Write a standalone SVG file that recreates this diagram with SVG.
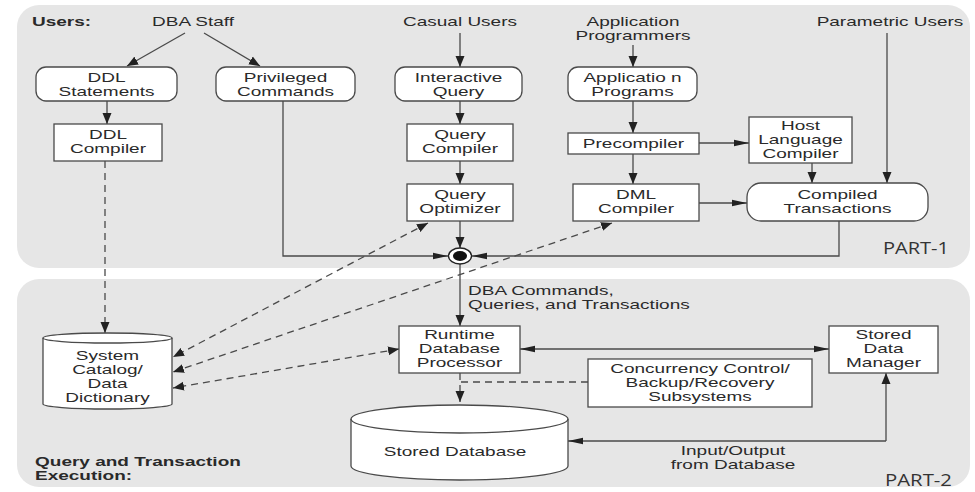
<svg xmlns="http://www.w3.org/2000/svg" width="975" height="492" viewBox="0 0 975 492">
<style>
.panel{fill:#e6e6e6;stroke:none}
.box{fill:#fff;stroke:#4a4a4a;stroke-width:1.3}
.ln{fill:none;stroke:#4a4a4a;stroke-width:1.3}
.dash{stroke-dasharray:7 5}
.t{font-family:"Liberation Sans",Arial,sans-serif;font-size:12.5px;fill:#2a2a2a;text-anchor:middle}
.s{text-anchor:start}
.b{font-weight:bold;text-anchor:start}
.part{font-family:"Open Sans","Liberation Sans",sans-serif;font-size:17px;fill:#333}
.arr{fill:#222}
</style>
<defs>
<marker id="av" viewBox="0 -5 12 10" markerWidth="12" markerHeight="10" refX="11" refY="0" orient="auto-start-reverse" markerUnits="userSpaceOnUse"><path class="arr" d="M0,-4.5 L11,0 L0,4.5 z"/></marker>
<marker id="ah" viewBox="0 -4 16 8" markerWidth="16" markerHeight="8" refX="15" refY="0" orient="auto-start-reverse" markerUnits="userSpaceOnUse"><path class="arr" d="M0,-3.2 L15,0 L0,3.2 z"/></marker>
</defs>

<g id="panels">
<rect class="panel" x="17" y="5" width="953" height="263" rx="22"/>
<rect class="panel" x="17" y="279" width="953" height="208" rx="22"/>
<text class="part" x="883" y="254" textLength="66" lengthAdjust="spacingAndGlyphs">PART-1</text>
<text class="part" x="885" y="486" textLength="67" lengthAdjust="spacingAndGlyphs">PART-2</text>
</g>

<g id="labels">
<text class="t b" transform="translate(32,0) scale(1.52,1)" y="26">Users:</text>
<text class="t" transform="translate(193,0) scale(1.52,1)" y="26">DBA Staff</text>
<text class="t" transform="translate(460,0) scale(1.52,1)" y="26">Casual Users</text>
<text class="t" transform="translate(633,0) scale(1.52,1)"><tspan x="0" y="26">Application</tspan><tspan x="0" y="40">Programmers</tspan></text>
<text class="t" transform="translate(890,0) scale(1.52,1)" y="26">Parametric Users</text>
<text class="t s" transform="translate(468,0) scale(1.52,1)"><tspan x="0" y="295">DBA Commands,</tspan><tspan x="0" y="309">Queries, and Transactions</tspan></text>
<text class="t" transform="translate(733,0) scale(1.52,1)"><tspan x="0" y="455">Input/Output</tspan><tspan x="0" y="469">from Database</tspan></text>
<text class="t b" transform="translate(35,0) scale(1.52,1)"><tspan x="0" y="466">Query and Transaction</tspan><tspan x="0" y="480">Execution:</tspan></text>
</g>

<g id="connectors">
<path class="ln" d="M185,33 L127,66" marker-end="url(#av)"/>
<path class="ln" d="M204,33 L260,66" marker-end="url(#av)"/>
<path class="ln" d="M107,101 V124" marker-end="url(#av)"/>
<path class="ln dash" d="M105,161 V333" marker-end="url(#av)"/>
<path class="ln" d="M460,33 V67" marker-end="url(#av)"/>
<path class="ln" d="M460,101 V124" marker-end="url(#av)"/>
<path class="ln" d="M460,161 V184" marker-end="url(#av)"/>
<path class="ln" d="M460,221 V248" marker-end="url(#av)"/>
<path class="ln" d="M283,101 V256 H448" marker-end="url(#ah)"/>
<path class="ln" d="M839,221 V256 H472" marker-end="url(#ah)"/>
<path class="ln" d="M460,264 V326" marker-end="url(#av)"/>
<path class="ln" d="M633,45 V67" marker-end="url(#av)"/>
<path class="ln" d="M633,101 V133" marker-end="url(#av)"/>
<path class="ln" d="M699,143 H749" marker-end="url(#ah)"/>
<path class="ln" d="M633,154 V184" marker-end="url(#av)"/>
<path class="ln" d="M699,203 H747" marker-end="url(#ah)"/>
<path class="ln" d="M812,163 V183" marker-end="url(#av)"/>
<path class="ln" d="M887,33 V183" marker-end="url(#av)"/>
<path class="ln dash" d="M428,223 L173,357" marker-start="url(#av)" marker-end="url(#av)"/>
<path class="ln dash" d="M612,223 L173,372" marker-start="url(#av)" marker-end="url(#av)"/>
<path class="ln dash" d="M399,349 L173,388" marker-start="url(#av)" marker-end="url(#av)"/>
<path class="ln" d="M520,349 H829" marker-start="url(#ah)" marker-end="url(#ah)"/>
<path class="ln dash" d="M460,373 V402" marker-end="url(#av)"/>
<path class="ln dash" d="M588,382 H460"/>
<path class="ln" d="M886,441 H568" marker-end="url(#ah)"/>
<path class="ln" d="M886,441 V373" marker-end="url(#av)"/>
</g>

<g id="merge">
<ellipse cx="460" cy="256" rx="11.5" ry="8" fill="#fff" stroke="#222" stroke-width="1.3"/>
<ellipse cx="460" cy="256" rx="7" ry="5" fill="#111"/>
</g>

<g id="ddl-statements">
<rect class="box" x="36" y="67" width="141" height="34" rx="10"/>
<text class="t" transform="translate(106.5,0) scale(1.52,1)"><tspan x="0" y="82">DDL</tspan><tspan x="0" y="96">Statements</tspan></text>
</g>
<g id="privileged-commands">
<rect class="box" x="216" y="67" width="139" height="34" rx="10"/>
<text class="t" transform="translate(285.5,0) scale(1.52,1)"><tspan x="0" y="82">Privileged</tspan><tspan x="0" y="96">Commands</tspan></text>
</g>
<g id="interactive-query">
<rect class="box" x="395" y="67" width="127" height="34" rx="10"/>
<text class="t" transform="translate(458.5,0) scale(1.52,1)"><tspan x="0" y="82">Interactive</tspan><tspan x="0" y="96">Query</tspan></text>
</g>
<g id="application-programs">
<rect class="box" x="568" y="67" width="129" height="34" rx="10"/>
<text class="t" transform="translate(632.5,0) scale(1.52,1)"><tspan x="0" y="82">Applicatio n</tspan><tspan x="0" y="96">Programs</tspan></text>
</g>
<g id="ddl-compiler">
<rect class="box" x="54" y="124" width="108" height="37"/>
<text class="t" transform="translate(108,0) scale(1.52,1)"><tspan x="0" y="139">DDL</tspan><tspan x="0" y="153">Compiler</tspan></text>
</g>
<g id="query-compiler">
<rect class="box" x="407" y="124" width="106" height="37"/>
<text class="t" transform="translate(460,0) scale(1.52,1)"><tspan x="0" y="139">Query</tspan><tspan x="0" y="153">Compiler</tspan></text>
</g>
<g id="precompiler">
<rect class="box" x="568" y="133" width="131" height="21"/>
<text class="t" transform="translate(633.5,0) scale(1.52,1)" y="148">Precompiler</text>
</g>
<g id="host-language-compiler">
<rect class="box" x="749" y="117" width="103" height="46"/>
<text class="t" transform="translate(800.5,0) scale(1.52,1)"><tspan x="0" y="130">Host</tspan><tspan x="0" y="144">Language</tspan><tspan x="0" y="158">Compiler</tspan></text>
</g>
<g id="query-optimizer">
<rect class="box" x="407" y="184" width="106" height="37"/>
<text class="t" transform="translate(460,0) scale(1.52,1)"><tspan x="0" y="199">Query</tspan><tspan x="0" y="213">Optimizer</tspan></text>
</g>
<g id="dml-compiler">
<rect class="box" x="573" y="184" width="126" height="37"/>
<text class="t" transform="translate(636,0) scale(1.52,1)"><tspan x="0" y="199">DML</tspan><tspan x="0" y="213">Compiler</tspan></text>
</g>
<g id="compiled-transactions">
<rect class="box" x="747" y="183" width="181" height="38" rx="14"/>
<text class="t" transform="translate(837.5,0) scale(1.52,1)"><tspan x="0" y="199">Compiled</tspan><tspan x="0" y="213">Transactions</tspan></text>
</g>
<g id="runtime-database-processor">
<rect class="box" x="399" y="326" width="121" height="47"/>
<text class="t" transform="translate(459.5,0) scale(1.52,1)"><tspan x="0" y="339">Runtime</tspan><tspan x="0" y="353">Database</tspan><tspan x="0" y="367">Processor</tspan></text>
</g>
<g id="stored-data-manager">
<rect class="box" x="829" y="326" width="109" height="47"/>
<text class="t" transform="translate(883.5,0) scale(1.52,1)"><tspan x="0" y="339">Stored</tspan><tspan x="0" y="353">Data</tspan><tspan x="0" y="367">Manager</tspan></text>
</g>
<g id="concurrency-control">
<rect class="box" x="588" y="359" width="224" height="48"/>
<text class="t" transform="translate(700,0) scale(1.52,1)"><tspan x="0" y="373">Concurrency Control/</tspan><tspan x="0" y="387">Backup/Recovery</tspan><tspan x="0" y="401">Subsystems</tspan></text>
</g>
<g id="system-catalog">
<path class="box" d="M43,338 A64.5,5 0 0 1 172,338 V404 A64.5,5 0 0 1 43,404 Z"/>
<path class="ln" d="M43,338 A64.5,5 0 0 0 172,338"/>
<text class="t" transform="translate(107.5,0) scale(1.52,1)"><tspan x="0" y="360">System</tspan><tspan x="0" y="374">Catalog/</tspan><tspan x="0" y="388">Data</tspan><tspan x="0" y="402">Dictionary</tspan></text>
</g>
<g id="stored-database">
<path class="box" d="M351,419 A108.5,14 0 0 1 568,419 V466 A108.5,14 0 0 1 351,466 Z"/>
<path class="ln" d="M351,419 A108.5,14 0 0 0 568,419"/>
<text class="t" transform="translate(455,0) scale(1.52,1)" y="456">Stored Database</text>
</g>
</svg>
